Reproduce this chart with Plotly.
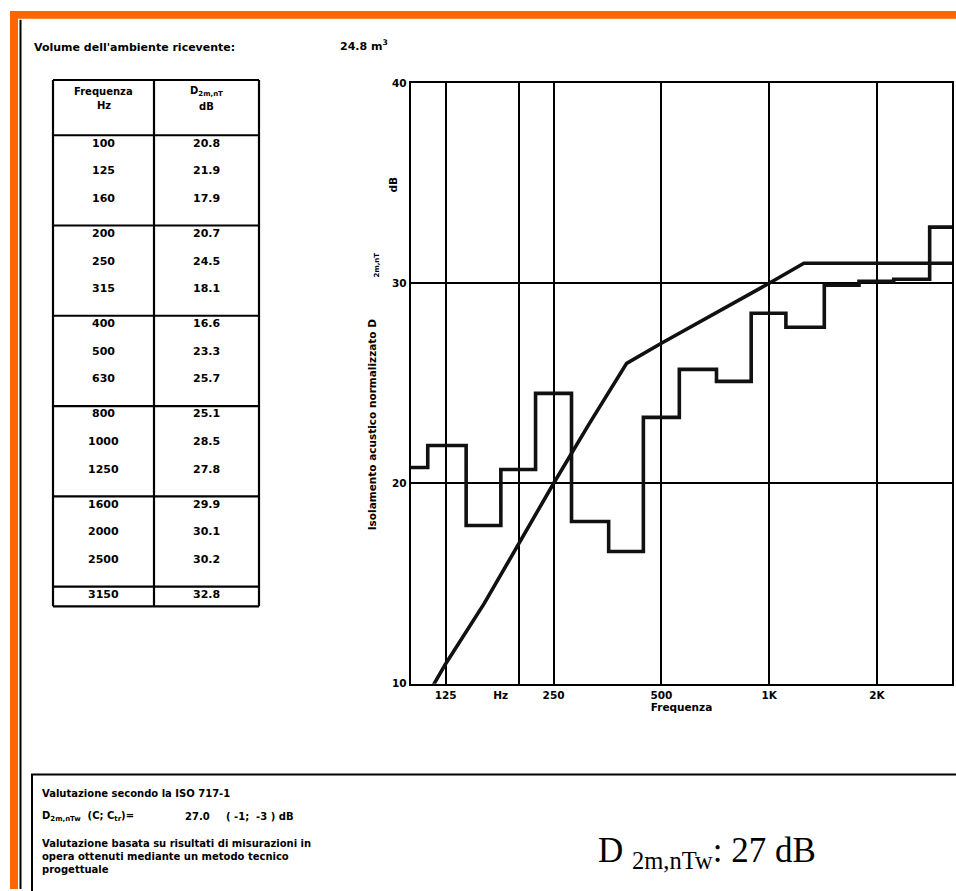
import plotly.graph_objects as go

# Third-octave band centre frequencies (Hz) and measured normalised level difference D2m,nT (dB)
freq_hz = [100, 125, 160, 200, 250, 315, 400, 500, 630, 800, 1000, 1250, 1600, 2000, 2500, 3150]
freq_labels = ["100", "125", "160", "200", "250", "315", "400", "500", "630",
               "800", "1000", "1250", "1600", "2000", "2500", "3150"]
d2mnt_db = [20.8, 21.9, 17.9, 20.7, 24.5, 18.1, 16.6, 23.3, 25.7, 25.1,
            28.5, 27.8, 29.9, 30.1, 30.2, 32.8]
# ISO 717-1 airborne reference curve (unshifted)
iso_reference_db = [33, 36, 39, 42, 45, 48, 51, 52, 53, 54, 55, 56, 56, 56, 56, 56]

rating_db = 27          # single-number rating D2m,nT,w
c_term = -1             # spectrum adaptation term C
ctr_term = -3           # spectrum adaptation term Ctr
room_volume_m3 = 24.8

x_tick_vals = [125, 178, 250, 500, 1000, 2000]
x_tick_text = ["125", "Hz", "250", "500", "1K", "2K"]
x_grid_vals = [125, 200, 250, 500, 1000, 2000]
y_tick_vals = [10, 20, 30, 40]
table_groups = [3, 3, 3, 3, 3, 1]

W, H = 956, 891


def px(x):
    return x / W


def py(y):
    return 1 - y / H


BLACK = "#000000"
ORANGE = "#ff6600"
SANS = "DejaVu Sans"


def bold(size):
    return dict(family=SANS, size=size, color=BLACK, weight="bold")


# Reference curve shifted so that its 500 Hz value equals the rating
shift = rating_db - iso_reference_db[freq_hz.index(500)]
shifted_ref = [v + shift for v in iso_reference_db]

# Band-edge steps for the measured spectrum
band = 2 ** (1 / 6)
top_edge = freq_hz[-1] * band
step_x = [f / band for f in freq_hz] + [top_edge]
step_y = d2mnt_db + [d2mnt_db[-1]]

# The shifted reference curve is held flat up to the last band edge
ref_x = freq_hz + [top_edge]
ref_y = shifted_ref + [shifted_ref[-1]]

fig = go.Figure()
fig.add_trace(go.Scatter(x=step_x, y=step_y, mode="lines", line_shape="hv",
                         line=dict(color="#111111", width=3.6), hoverinfo="skip"))
fig.add_trace(go.Scatter(x=ref_x, y=ref_y, mode="lines",
                         line=dict(color="#111111", width=3.6), hoverinfo="skip"))

shapes = []
annotations = []

# Orange frame and inner rule
shapes.append(dict(type="rect", xref="paper", yref="paper", x0=px(10), x1=px(960),
                   y0=py(13), y1=py(5), fillcolor=ORANGE, line=dict(width=0), layer="below"))
shapes.append(dict(type="rect", xref="paper", yref="paper", x0=px(10), x1=px(18),
                   y0=py(895), y1=py(5), fillcolor=ORANGE, line=dict(width=0), layer="below"))
shapes.append(dict(type="line", xref="paper", yref="paper", x0=px(20.5), x1=px(20.5),
                   y0=py(14), y1=py(895), line=dict(color=BLACK, width=2)))

# Header line
annotations.append(dict(text="Volume dell'ambiente ricevente:", x=px(32), y=py(42),
                        xanchor="left", yanchor="middle", font=bold(11)))
annotations.append(dict(text=f"{room_volume_m3} m<sup>3</sup>", x=px(338), y=py(40),
                        xanchor="left", yanchor="middle", font=bold(11)))

# Data table
col_x = [53, 154, 259]
t_top, h_bot = 75, 131
row_pitch, group_pitch = 28, 91.5
group_tops = [h_bot]
for n in table_groups:
    group_tops.append(group_tops[-1] + (group_pitch if n == 3 else 20))
t_bot = group_tops[-1]
for x in col_x:
    shapes.append(dict(type="line", xref="paper", yref="paper", x0=px(x), x1=px(x),
                       y0=py(t_top), y1=py(t_bot), line=dict(color=BLACK, width=2.2)))
for y in [t_top] + group_tops:
    shapes.append(dict(type="line", xref="paper", yref="paper", x0=px(col_x[0]), x1=px(col_x[-1]),
                       y0=py(y), y1=py(y), line=dict(color=BLACK, width=2.2)))
c1 = (col_x[0] + col_x[1]) / 2
c2 = (col_x[1] + col_x[2]) / 2
annotations.append(dict(text="Frequenza", x=px(c1), y=py(87), xanchor="center", yanchor="middle", font=bold(10)))
annotations.append(dict(text="Hz", x=px(c1), y=py(101), xanchor="center", yanchor="middle", font=bold(10)))
annotations.append(dict(text="D<sub>2m,nT</sub>", x=px(c2), y=py(87), xanchor="center", yanchor="middle", font=bold(10)))
annotations.append(dict(text="dB", x=px(c2), y=py(102), xanchor="center", yanchor="middle", font=bold(10)))
i = 0
for g, n in enumerate(table_groups):
    for r in range(n):
        y = group_tops[g] + 8 + row_pitch * r
        annotations.append(dict(text=freq_labels[i], x=px(c1), y=py(y), xanchor="center",
                                yanchor="middle", font=bold(11)))
        annotations.append(dict(text=f"{d2mnt_db[i]:.1f}", x=px(c2), y=py(y), xanchor="center",
                                yanchor="middle", font=bold(11)))
        i += 1

# Axis titles for the chart
annotations.append(dict(text="Isolamento acustico normalizzato D", x=px(372), y=py(424), textangle=-90,
                        xanchor="center", yanchor="middle", font=bold(10.5)))
annotations.append(dict(text="2m,nT", x=px(377), y=py(263), textangle=-90,
                        xanchor="center", yanchor="middle", font=bold(7)))
annotations.append(dict(text="dB", x=px(393), y=py(181), textangle=-90,
                        xanchor="center", yanchor="middle", font=bold(10.5)))

# Rating box
shapes.append(dict(type="rect", xref="paper", yref="paper", x0=px(32), x1=px(962),
                   y0=py(898), y1=py(779), line=dict(color=BLACK, width=2)))
annotations.append(dict(text="Valutazione secondo la ISO 717-1", x=px(40), y=py(798),
                        xanchor="left", yanchor="middle", font=bold(10)))
annotations.append(dict(text="D<sub>2m,nTw</sub>  (C; C<sub>tr</sub>)=", x=px(40), y=py(822),
                        xanchor="left", yanchor="middle", font=bold(10)))
annotations.append(dict(text=f"{rating_db:.1f}", x=px(183), y=py(822),
                        xanchor="left", yanchor="middle", font=bold(10)))
annotations.append(dict(text=f"( {c_term};  {ctr_term} ) dB", x=px(224), y=py(822),
                        xanchor="left", yanchor="middle", font=bold(10)))
annotations.append(dict(text="Valutazione basata su risultati di misurazioni in<br>"
                             "opera ottenuti mediante un metodo tecnico<br>progettuale",
                        x=px(40), y=py(841), xanchor="left", yanchor="top", align="left",
                        font=bold(10)))
annotations.append(dict(text=f"D <sub>2m,nTw</sub>: {rating_db} dB", x=px(596), y=py(858),
                        xanchor="left", yanchor="middle",
                        font=dict(family="Liberation Serif", size=35, color=BLACK)))

for a in annotations:
    a.setdefault("xref", "paper")
    a.setdefault("yref", "paper")
    a["showarrow"] = False

fig.update_layout(
    width=W, height=H,
    margin=dict(l=0, r=0, t=0, b=0),
    paper_bgcolor="white", plot_bgcolor="white",
    showlegend=False,
    shapes=shapes, annotations=annotations,
    xaxis=dict(
        type="log", domain=[px(411), px(952)],
        range=[2.0, 3.5105],
        tickmode="array", tickvals=x_tick_vals, ticktext=x_tick_text,
        showgrid=False, zeroline=False, ticks="",
        showline=True, mirror=True, linecolor=BLACK, linewidth=2.4,
        tickfont=bold(10.5),
        minor=dict(tickmode="array", tickvals=x_grid_vals, showgrid=True,
                   gridcolor=BLACK, gridwidth=2, ticks=""),
        title=dict(text="Frequenza", font=bold(10.5), standoff=2),
    ),
    yaxis=dict(
        domain=[py(687), py(78)], range=[10, 40],
        tickmode="array", tickvals=y_tick_vals,
        showgrid=True, gridcolor=BLACK, gridwidth=2, zeroline=False, ticks="",
        showline=True, mirror=True, linecolor=BLACK, linewidth=2.4,
        tickfont=bold(10.5),
    ),
)

fig.write_html("out.html")
